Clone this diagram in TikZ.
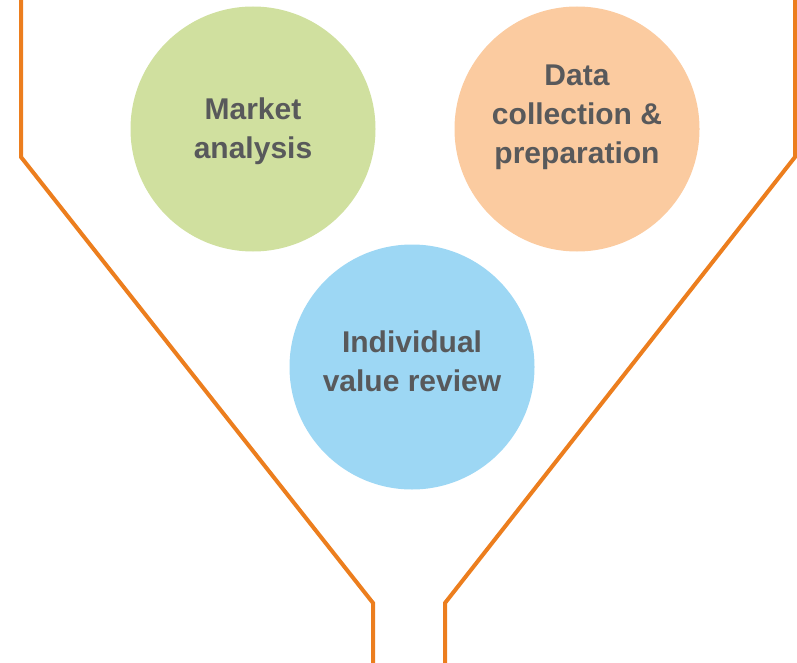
\documentclass[tikz,border=0pt]{standalone}
\usepackage{fontspec}
\setmainfont{Liberation Sans}
\usepackage{tikz}
\usetikzlibrary{positioning}

\definecolor{funnelorange}{HTML}{EC7E1E}
\definecolor{stagegreen}{HTML}{D0E09F}
\definecolor{stageorange}{HTML}{FBCBA0}
\definecolor{stageblue}{HTML}{9DD7F4}
\definecolor{stagetext}{HTML}{58595B}

\tikzset{
  stage/.style={circle, minimum size=245pt, inner sep=0pt},
  stagetitle/.style={align=center, inner sep=0pt, text=stagetext,
    font=\fontsize{30}{39}\selectfont\bfseries},
  funnel/.style={draw=funnelorange, line width=4pt, line join=miter}
}

\begin{document}
\begin{tikzpicture}[x=1pt, y=-1pt]
  \useasboundingbox (0,0) rectangle (797,663);

  % Define nodes
  \node[stage, fill=stagegreen]  (market) at (253,129) {};
  \node[stage, fill=stageorange] (data)   at (577,129) {};
  \node[stage, fill=stageblue]   (value)  at (412,367) {};

  % Titles
  \node[stagetitle] (markettitle) at ([yshift=-2pt]market.center) {Market\\analysis};
  \node[stagetitle] (datatitle)   at ([yshift=12pt]data.center) {Data\\collection \&\\preparation};
  \node[stagetitle] (valuetitle)  at ([yshift=6pt]value.center) {Individual\\value review};

  % Funnel
  \draw[funnel] (21,-5) -- (21,157) -- (373,603) -- (373,670);
  \draw[funnel] (795,-5) -- (795,157) -- (445,603) -- (445,670);

\end{tikzpicture}
\end{document}
